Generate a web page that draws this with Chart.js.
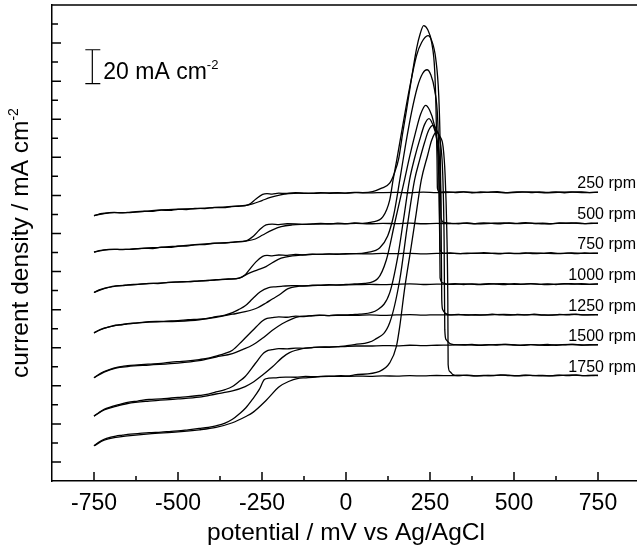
<!DOCTYPE html>
<html>
<head>
<meta charset="utf-8">
<script src="https://cdn.jsdelivr.net/npm/chart.js@4.4.1/dist/chart.umd.min.js"></script>
<style>
  html, body { margin: 0; padding: 0; background: #fff; overflow: hidden; }
  #wrap { width: 642px; height: 552px; }
</style>
</head>
<body>
<div id="wrap"><canvas id="myChart" width="642" height="552"></canvas></div>
<script>
// RDE voltammograms at several rotation rates, each one shifted up the page
const RPM = ['250 rpm', '500 rpm', '750 rpm', '1000 rpm', '1250 rpm', '1500 rpm', '1750 rpm'];
// flat level at the right end of each trace (where the label sits)
const LEVEL = [141.6, 125.3, 109.6, 93.4, 77.3, 61.5, 45.4];

const X_TICKS = [-750, -500, -250, 0, 250, 500, 750];
const X_MINOR = [-625, -375, -125, 125, 375, 625];
const Y_MAJOR = [0, 20, 40, 60, 80, 100, 120, 140, 160, 180, 200, 220];
const Y_MINOR = [10, 30, 50, 70, 90, 110, 130, 150, 170, 190, 210, 230];

// [potential mV, current (offset units)]
const fwd250 = [[-750,129.3],[-735,130.2],[-720,130.6],[-705,131.0],[-690,131.1],[-670,130.8],[-650,131.1],[-625,131.5],[-600,131.7],[-575,131.6],[-550,132.3],[-525,132.1],[-500,132.7],[-475,132.6],[-450,133.2],[-420,133.1],[-392,133.7],[-365,133.6],[-340,134.1],[-320,134.3],[-300,134.7],[-288,135.3],[-268,138.1],[-248,140.5],[-235,140.9],[-220,140.7],[-200,141.2],[-180,141.0],[-150,141.4],[-125,141.1],[-100,141.2],[-75,141.5],[-50,141.1],[-25,141.4],[0,141.2],[25,141.6],[50,141.5],[79,142.0],[106,143.8],[130,146.4],[145,152.2],[157,159.5],[169,173.1],[180,184.7],[195,201.4],[210,217.1],[221,225.0],[231,229.2],[243,227.1],[255,220.3],[264,205.6],[268,184.7],[271,158.5],[272,143.8],[279,141.7],[300,141.9],[325,141.5],[350,141.8],[375,141.4],[400,141.8],[425,141.6],[450,142.0],[475,141.5],[500,141.7],[525,141.9],[550,141.5],[575,141.8],[600,141.6],[625,141.9],[650,141.4],[675,141.7],[700,141.9],[725,141.5],[750,141.6]];
const rev250 = [[750,141.7],[710,141.5],[670,141.8],[630,141.6],[590,141.4],[550,141.8],[510,141.6],[470,141.4],[430,141.7],[390,141.5],[350,141.8],[310,141.6],[270,141.5],[230,141.7],[190,141.4],[150,141.6],[110,141.5],[70,141.3],[30,141.5],[-10,141.2],[-50,141.3],[-100,141.1],[-140,141.2],[-170,141.0],[-198,140.2],[-225,138.9],[-250,137.3],[-278,135.5],[-300,134.6],[-340,134.2],[-392,133.6],[-450,133.0],[-500,132.8],[-550,132.4],[-600,131.6],[-650,131.0],[-690,131.0],[-720,130.5],[-750,129.4]];

const fwd500 = [[-750,110.2],[-735,111.0],[-720,111.4],[-705,111.6],[-690,111.7],[-670,111.5],[-650,111.7],[-625,112.0],[-600,112.2],[-575,112.1],[-550,112.8],[-525,112.7],[-500,113.3],[-475,113.4],[-450,114.0],[-420,114.2],[-392,114.9],[-360,115.0],[-330,115.6],[-298,116.1],[-275,118.7],[-258,121.8],[-238,124.5],[-220,124.9],[-200,124.7],[-175,125.1],[-150,125.0],[-125,124.8],[-100,125.0],[-75,125.3],[-50,125.0],[-25,125.4],[0,125.2],[25,125.5],[50,125.3],[76,125.9],[110,128.8],[130,137.5],[140,148.0],[151,158.5],[169,176.8],[189,196.2],[210,213.5],[225,220.3],[244,223.9],[255,221.3],[267,211.9],[276,192.5],[280,169.0],[282,142.8],[283,128.1],[291,125.8],[310,125.4],[335,125.1],[360,125.5],[385,125.2],[410,125.6],[435,125.3],[460,125.1],[485,125.5],[510,125.3],[535,125.7],[560,125.2],[585,125.4],[610,125.1],[635,125.5],[660,125.3],[685,125.6],[710,125.2],[730,125.4],[750,125.3]];
const rev500 = [[750,125.4],[710,125.2],[670,125.5],[630,125.3],[590,125.1],[550,125.4],[510,125.2],[470,125.5],[430,125.3],[390,125.1],[350,125.4],[310,125.2],[270,125.3],[230,125.1],[190,125.4],[150,125.2],[110,125.3],[70,125.1],[30,125.3],[-10,125.0],[-50,125.1],[-100,124.9],[-130,124.8],[-160,124.5],[-193,123.6],[-220,121.8],[-248,119.2],[-270,117.1],[-298,116.0],[-330,115.5],[-392,114.8],[-450,114.1],[-500,113.4],[-550,112.7],[-600,112.3],[-650,111.6],[-690,111.6],[-720,111.3],[-750,110.2]];

const fwd750 = [[-750,89.0],[-735,90.4],[-720,91.2],[-700,92.0],[-685,92.5],[-665,92.6],[-650,93.0],[-620,93.3],[-586,93.8],[-560,93.7],[-530,94.3],[-500,94.6],[-470,94.7],[-437,95.1],[-410,95.3],[-387,95.7],[-350,96.0],[-318,96.6],[-300,98.3],[-288,100.9],[-268,105.1],[-248,108.0],[-235,108.5],[-220,108.2],[-200,108.7],[-175,108.5],[-150,109.0],[-125,108.8],[-100,109.1],[-75,109.0],[-50,109.3],[-25,109.1],[0,109.4],[30,109.4],[64,110.1],[100,112.4],[124,118.7],[142,129.7],[160,148.0],[177,166.3],[195,183.6],[213,197.2],[228,204.0],[241,206.0],[252,203.5],[264,195.1],[273,179.4],[277,153.2],[279,121.8],[280,111.4],[291,109.5],[310,109.8],[335,109.4],[360,109.7],[385,109.5],[410,109.9],[435,109.6],[460,109.3],[485,109.7],[510,109.5],[535,109.8],[560,109.4],[585,109.6],[610,109.9],[635,109.5],[660,109.7],[685,109.4],[710,109.8],[730,109.5],[750,109.6]];
const rev750 = [[750,109.7],[710,109.5],[670,109.8],[630,109.4],[590,109.6],[550,109.8],[510,109.4],[470,109.6],[430,109.5],[390,109.7],[350,109.4],[310,109.6],[270,109.5],[230,109.3],[190,109.6],[150,109.4],[110,109.5],[70,109.3],[30,109.4],[-10,109.2],[-50,109.2],[-100,109.0],[-130,108.7],[-160,108.2],[-193,107.0],[-215,105.1],[-238,102.6],[-263,100.9],[-288,99.2],[-318,96.5],[-350,96.1],[-387,95.6],[-437,95.0],[-500,94.5],[-586,93.7],[-650,92.9],[-685,92.4],[-720,91.1],[-750,89.0]];

const fwd1000 = [[-750,67.8],[-735,69.3],[-720,70.3],[-700,71.2],[-685,71.8],[-665,72.1],[-650,72.6],[-620,73.0],[-586,73.7],[-550,73.8],[-520,74.1],[-500,74.2],[-470,74.7],[-437,75.0],[-410,75.4],[-387,76.3],[-360,77.1],[-338,78.4],[-320,80.0],[-300,82.0],[-278,85.7],[-255,89.4],[-230,91.5],[-210,92.0],[-188,92.3],[-160,92.6],[-130,92.5],[-100,92.8],[-75,92.9],[-50,93.1],[-25,92.9],[0,93.2],[25,93.5],[55,93.8],[94,96.2],[120,106.1],[145,125.5],[174,148.0],[189,160.1],[207,173.1],[222,182.6],[237,187.3],[249,184.7],[261,178.4],[270,169.0],[276,150.6],[279,116.6],[280,96.7],[288,94.1],[300,93.4],[325,93.6],[350,93.2],[375,93.5],[400,93.3],[425,93.7],[450,93.4],[475,93.2],[500,93.6],[525,93.4],[550,93.7],[575,93.3],[600,93.5],[625,93.2],[650,93.6],[675,93.4],[700,93.7],[725,93.3],[750,93.4]];
const rev1000 = [[750,93.5],[710,93.3],[670,93.6],[630,93.4],[590,93.2],[550,93.5],[510,93.3],[470,93.6],[430,93.4],[390,93.2],[350,93.5],[310,93.3],[270,93.4],[230,93.2],[190,93.5],[150,93.3],[110,93.1],[70,93.3],[30,93.1],[-10,93.0],[-50,92.9],[-100,92.6],[-140,92.3],[-174,90.9],[-198,87.8],[-218,85.7],[-238,83.5],[-263,81.0],[-300,78.9],[-338,77.6],[-387,76.0],[-437,74.7],[-500,73.9],[-586,73.4],[-650,72.5],[-685,71.7],[-720,70.2],[-750,67.8]];

const fwd1250 = [[-750,44.2],[-735,46.1],[-720,47.5],[-700,48.8],[-685,49.6],[-665,50.2],[-650,50.6],[-620,51.0],[-586,51.4],[-550,51.8],[-520,52.4],[-500,52.7],[-470,53.1],[-437,53.8],[-410,54.5],[-387,55.6],[-360,57.0],[-338,58.7],[-308,63.7],[-278,69.0],[-248,74.2],[-235,75.4],[-220,75.8],[-200,76.2],[-175,76.0],[-150,76.6],[-125,76.4],[-100,76.9],[-79,77.1],[-50,76.9],[-25,77.3],[0,77.2],[20,77.4],[40,77.6],[94,79.9],[130,88.8],[154,107.7],[171,127.1],[189,148.0],[204,159.5],[219,169.0],[234,177.3],[247,180.3],[258,177.3],[270,170.0],[279,155.9],[283,127.1],[285,85.2],[288,79.9],[297,77.9],[309,77.3],[335,77.5],[360,77.1],[385,77.4],[410,77.2],[435,77.6],[460,77.3],[485,77.1],[510,77.5],[535,77.2],[560,77.6],[585,77.3],[610,77.1],[635,77.5],[660,77.3],[685,77.6],[710,77.2],[730,77.4],[750,77.3]];
const rev1250 = [[750,77.4],[710,77.2],[670,77.5],[630,77.3],[590,77.1],[550,77.4],[510,77.2],[470,77.5],[430,77.3],[390,77.1],[350,77.4],[310,77.2],[270,77.3],[230,77.1],[190,77.4],[150,77.2],[110,77.0],[70,77.2],[30,77.0],[-10,77.0],[-50,76.9],[-79,77.0],[-110,76.7],[-139,76.3],[-160,75.2],[-190,72.6],[-220,69.0],[-250,64.8],[-278,61.4],[-308,59.0],[-338,56.9],[-387,55.1],[-437,53.2],[-500,51.9],[-586,50.9],[-650,50.1],[-685,49.3],[-720,47.2],[-750,44.2]];

const fwd1500 = [[-750,24.1],[-735,26.0],[-720,27.6],[-700,28.9],[-685,29.7],[-665,30.6],[-650,31.3],[-620,32.0],[-586,32.8],[-550,33.1],[-520,33.6],[-500,33.9],[-470,34.3],[-437,34.9],[-410,35.6],[-387,36.8],[-360,38.0],[-338,39.6],[-320,42.0],[-300,44.9],[-270,51.7],[-245,57.2],[-232,58.6],[-220,59.0],[-200,59.5],[-175,59.4],[-150,59.8],[-125,59.7],[-100,60.1],[-79,60.3],[-50,60.2],[-25,60.6],[0,61.0],[25,61.6],[85,64.2],[130,73.1],[160,95.7],[183,124.5],[204,148.0],[219,158.5],[234,167.9],[246,174.2],[259,176.8],[270,174.2],[282,166.3],[288,150.6],[292,116.6],[294,69.5],[298,64.2],[309,62.2],[324,61.6],[350,61.4],[375,61.7],[400,61.3],[425,61.6],[450,61.4],[475,61.8],[500,61.5],[525,61.2],[550,61.6],[575,61.4],[600,61.7],[625,61.3],[650,61.5],[675,61.8],[700,61.4],[725,61.6],[750,61.5]];
const rev1500 = [[750,61.6],[710,61.4],[670,61.7],[630,61.5],[590,61.3],[550,61.6],[510,61.4],[470,61.7],[430,61.5],[390,61.3],[350,61.6],[310,61.4],[270,61.3],[230,61.1],[190,61.3],[150,61.0],[110,61.1],[70,60.9],[30,60.9],[-10,60.6],[-50,60.4],[-79,60.3],[-105,60.0],[-130,59.5],[-168,57.4],[-190,54.8],[-218,50.1],[-250,45.4],[-278,41.7],[-300,39.6],[-338,37.3],[-387,35.7],[-437,34.1],[-500,33.1],[-586,32.0],[-650,30.7],[-685,29.2],[-720,27.3],[-750,24.1]];

const fwd1750 = [[-750,8.5],[-735,10.5],[-720,11.9],[-700,13.0],[-685,13.6],[-665,14.1],[-650,14.5],[-620,14.9],[-586,15.4],[-550,15.7],[-520,16.1],[-500,16.3],[-470,16.9],[-437,17.6],[-410,18.2],[-387,19.0],[-360,20.4],[-338,22.4],[-318,25.2],[-298,28.5],[-278,33.0],[-258,38.1],[-243,43.3],[-230,44.0],[-208,44.2],[-180,44.6],[-150,44.5],[-120,44.9],[-90,44.8],[-60,45.1],[-40,45.1],[-15,45.3],[10,45.2],[25,45.7],[100,47.6],[130,52.0],[150,60.7],[160,71.2],[174,90.4],[194,113.1],[209,130.6],[224,148.0],[243,161.1],[255,169.0],[269,173.3],[279,171.1],[289,165.5],[295,150.6],[300,121.8],[303,85.2],[304,51.2],[309,47.5],[318,45.9],[333,45.4],[360,45.6],[385,45.2],[410,45.5],[435,45.3],[460,45.7],[485,45.4],[510,45.2],[535,45.6],[560,45.3],[585,45.5],[610,45.2],[635,45.6],[660,45.4],[685,45.7],[710,45.3],[730,45.5],[750,45.4]];
const rev1750 = [[750,45.5],[710,45.3],[670,45.6],[630,45.4],[590,45.2],[550,45.5],[510,45.3],[470,45.6],[430,45.4],[390,45.2],[350,45.5],[310,45.3],[270,45.4],[230,45.2],[190,45.3],[150,45.1],[110,45.2],[70,45.0],[30,45.1],[-10,44.9],[-50,44.9],[-90,44.6],[-119,44.2],[-145,43.8],[-169,42.4],[-198,39.6],[-238,32.3],[-278,25.9],[-298,23.9],[-338,20.6],[-387,18.2],[-437,16.9],[-500,15.8],[-586,14.8],[-650,13.7],[-685,12.9],[-720,11.4],[-750,8.5]];

const TRACES = [
  [fwd250, rev250], [fwd500, rev500], [fwd750, rev750], [fwd1000, rev1000],
  [fwd1250, rev1250], [fwd1500, rev1500], [fwd1750, rev1750]
];

const FONT = "'Liberation Sans', Arial, sans-serif";
const LABEL_X = 863;                       // right edge of the rpm labels, mV
const SCALE_BAR = { x: -755, y: 198.7, len: 17.8 };  // 20 mA cm-2 marker

const datasets = TRACES.flatMap((pair, i) => pair.map(arr => ({
  label: RPM[i],
  data: arr.map(([x, y]) => ({ x, y })),
  borderColor: '#000',
  borderWidth: 1.3,
  pointRadius: 0,
  cubicInterpolationMode: 'monotone',
  fill: false
})));

// text with a small raised "-2" after it
function supText(ctx, main, sup, x, y, size, supSize, rise, align) {
  ctx.font = `${size}px ${FONT}`;
  const w = ctx.measureText(main).width;
  ctx.font = `${supSize}px ${FONT}`;
  const ws = ctx.measureText(sup).width;
  const x0 = align === 'center' ? x - (w + ws) / 2 : x;
  ctx.textAlign = 'left';
  ctx.font = `${size}px ${FONT}`;
  ctx.fillText(main, x0, y);
  ctx.font = `${supSize}px ${FONT}`;
  ctx.fillText(sup, x0 + w, y - rise);
}

const decor = {
  id: 'decor',
  afterDraw(chart) {
    const { ctx, chartArea: a, scales: { x, y } } = chart;
    ctx.save();
    ctx.strokeStyle = '#000';
    ctx.lineWidth = 1.5;
    ctx.beginPath();
    ctx.moveTo(a.left, a.top);
    ctx.lineTo(a.right, a.top);
    X_TICKS.forEach(v => { const p = x.getPixelForValue(v); ctx.moveTo(p, a.bottom); ctx.lineTo(p, a.bottom - 9); });
    X_MINOR.forEach(v => { const p = x.getPixelForValue(v); ctx.moveTo(p, a.bottom); ctx.lineTo(p, a.bottom - 5); });
    Y_MAJOR.forEach(v => { const p = y.getPixelForValue(v); ctx.moveTo(a.left, p); ctx.lineTo(a.left + 9, p); });
    Y_MINOR.forEach(v => { const p = y.getPixelForValue(v); ctx.moveTo(a.left, p); ctx.lineTo(a.left + 6, p); });
    ctx.stroke();

    // scale bar
    const bx = x.getPixelForValue(SCALE_BAR.x);
    const b0 = y.getPixelForValue(SCALE_BAR.y);
    const b1 = y.getPixelForValue(SCALE_BAR.y + SCALE_BAR.len);
    ctx.lineWidth = 1.2;
    ctx.beginPath();
    ctx.moveTo(bx, b0); ctx.lineTo(bx, b1);
    ctx.moveTo(bx - 7, b0); ctx.lineTo(bx + 8, b0);
    ctx.moveTo(bx - 7, b1); ctx.lineTo(bx + 8, b1);
    ctx.stroke();
    ctx.fillStyle = '#000';
    ctx.textBaseline = 'alphabetic';
    supText(ctx, '20 mA cm', '-2', bx + 11, b0 - 5, 23, 13, 10, 'left');

    // rpm labels
    ctx.font = `16px ${FONT}`;
    ctx.textAlign = 'right';
    RPM.forEach((t, i) => ctx.fillText(t, x.getPixelForValue(LABEL_X), y.getPixelForValue(LEVEL[i]) - 4));

    // y axis title
    ctx.translate(28, (a.top + a.bottom) / 2);
    ctx.rotate(-Math.PI / 2);
    supText(ctx, 'current density / mA cm', '-2', 0, 0, 24.5, 14, 10, 'center');
    ctx.restore();
  }
};

const ctx = document.getElementById('myChart');
const myChart = new Chart(ctx, {
  type: 'line',
  data: { datasets },
  options: {
    responsive: false,
    animation: false,
    events: [],
    layout: { padding: { top: 5, right: 2, left: 0, bottom: 0 } },
    plugins: { legend: { display: false }, tooltip: { enabled: false } },
    scales: {
      x: {
        type: 'linear',
        min: -875,
        max: 875,
        afterBuildTicks: s => { s.ticks = X_TICKS.map(v => ({ value: v })); },
        afterFit: s => { s.height = 71; },
        grid: { drawOnChartArea: false, drawTicks: false },
        border: { color: '#000', width: 1.5 },
        ticks: { autoSkip: false, maxRotation: 0, padding: 9, color: '#000', font: { family: FONT, size: 23 } },
        title: { display: true, text: 'potential / mV vs Ag/AgCl', color: '#000', font: { family: FONT, size: 24.5 }, padding: { top: 0, bottom: 4 } }
      },
      y: {
        type: 'linear',
        min: -10,
        max: 240,
        afterFit: s => { s.width = 52; },
        grid: { drawOnChartArea: false, drawTicks: false },
        border: { color: '#000', width: 1.5 },
        ticks: { display: false }
      }
    }
  },
  plugins: [decor]
});
</script>
</body>
</html>
